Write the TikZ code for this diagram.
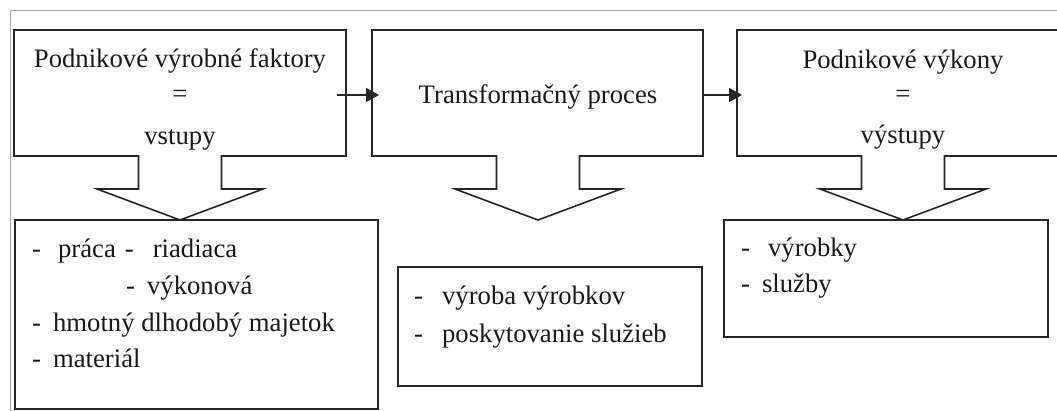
\documentclass[tikz,border=0pt]{standalone}
\usepackage{fontspec}
\setmainfont{Liberation Serif}
\usetikzlibrary{arrows.meta}

\tikzset{
  boxline/.style={draw=black!85, line width=1.6pt, line join=miter},
  area/.style={inner sep=0pt, outer sep=0pt, minimum width=#1},
  txt/.style={inner sep=0pt, font=\fontsize{26.7}{32}\selectfont, text=black!90},
  conn/.style={draw=black!85, line width=1.6pt, -{Triangle[length=13pt,width=14pt]}},
  framegray/.style={draw=black!35, line width=1pt},
}

% outline of a box whose bottom edge opens into a downward block arrow
\newcommand{\boxwitharrow}[2]{%
  \draw[boxline] (#2-41.5,156) -- (#1.south west) -- (#1.north west)
    -- (#1.north east) -- (#1.south east) -- (#2+41.5,156)
    -- (#2+41.5,189) -- (#2+83,189) -- (#2,220) -- (#2-83,189)
    -- (#2-41.5,189) -- cycle;}

\begin{document}
\begin{tikzpicture}[x=1pt,y=-1pt]
\useasboundingbox (0,0) rectangle (1057,411);
\clip (0,0) rectangle (1057,411);

% page frame
\draw[framegray] (10,412) -- (10,11) -- (1058,11);

% upper row: inputs, transformation, outputs
\node[area=332pt, minimum height=126pt] (f1) at (180,93) {};
\node[area=331pt, minimum height=126pt] (f2) at (537.5,93) {};
\node[area=332pt, minimum height=126pt] (f3) at (903,93) {};

\boxwitharrow{f1}{180}
\boxwitharrow{f2}{538}
\boxwitharrow{f3}{903}

\node[txt, anchor=base] (f1a) at (180,68) {Podnikové výrobné faktory};
\node[txt, anchor=base] (f1b) at (180,103) {=};
\node[txt, anchor=base] (f1c) at (180,145) {vstupy};

\node[txt, anchor=base] (f2a) at (538,104) {Transformačný proces};

\node[txt, anchor=base] (f3a) at (903,69) {Podnikové výkony};
\node[txt, anchor=base] (f3b) at (903,103) {=};
\node[txt, anchor=base] (f3c) at (903,144) {výstupy};

\draw[conn] ([xshift=-9pt,yshift=-2pt]f1.east) -- ([xshift=7pt,yshift=-2pt]f2.west);
\draw[conn] ([xshift=-1pt,yshift=-2pt]f2.east) -- ([xshift=5pt,yshift=-2pt]f3.west);

% lower row: detail boxes
\node[area=363pt, minimum height=189pt, boxline] (b1) at (196.5,314.5) {};
\node[area=304pt, minimum height=119pt, boxline] (b2) at (550,326.5) {};
\node[area=324pt, minimum height=117pt, boxline] (b3) at (886,278.5) {};

\node[txt, anchor=base west] (b1a) at (32,258) {-\hspace{17pt}práca\hspace{9pt}-\hspace{19pt}riadiaca};
\node[txt, anchor=base west] (b1b) at (126,295) {-\hspace{12pt}výkonová};
\node[txt, anchor=base west] (b1c) at (32,332) {-\hspace{12pt}hmotný dlhodobý majetok};
\node[txt, anchor=base west] (b1d) at (32,367) {-\hspace{12pt}materiál};

\node[txt, anchor=base west] (b2a) at (414,305) {-\hspace{19pt}výroba výrobkov};
\node[txt, anchor=base west] (b2b) at (414,342) {-\hspace{19pt}poskytovanie služieb};

\node[txt, anchor=base west] (b3a) at (741,257) {-\hspace{18pt}výrobky};
\node[txt, anchor=base west] (b3b) at (741,293) {-\hspace{12pt}služby};
\end{tikzpicture}
\end{document}
